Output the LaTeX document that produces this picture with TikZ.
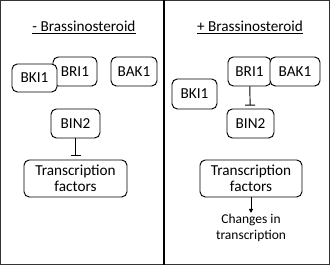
\documentclass[tikz,border=0pt]{standalone}
\usepackage{fontspec}
\setmainfont{Carlito}
\usetikzlibrary{arrows.meta}
\begin{document}
\begin{tikzpicture}[x=0.03cm,y=-0.03cm,
    protbox/.style={draw,line width=0.8pt,rounded corners=0.16cm,fill=white,
        minimum height=0.87cm,inner sep=1pt,font=\fontsize{13}{15}\selectfont},
    inhib/.style={line width=0.8pt,-{Bar[width=0.3cm,line width=0.8pt]}},
    activ/.style={line width=0.8pt,-{Triangle[width=0.12cm,length=0.12cm]}}]
    \useasboundingbox (0,0) rectangle (330,265);
    % Frame
    \draw[line width=0.6pt,black!80] (0.5,0.5) rectangle (329.5,264.5);
    \draw[line width=1.7pt] (164,0) -- (164,265);
    % Without brassinosteroid
    \node[font=\fontsize{13}{15}\selectfont] (titleA) at (84,27) {\underline{- Brassinosteroid}};
    \node[protbox,minimum width=1.32cm] (briA) at (75,71.5) {BRI1};
    \node[protbox,minimum width=1.35cm,minimum height=0.84cm] (bkiA) at (34.5,78) {BKI1};
    \node[protbox,minimum width=1.38cm] (bakA) at (134,71.5) {BAK1};
    \node[protbox,minimum width=1.47cm] (binA) at (75.5,123.5) {BIN2};
    \node[protbox,minimum width=3.09cm,minimum height=1.11cm,align=center,
        font=\fontsize{13}{14}\selectfont] (tfA) at (75.5,178.5) {Transcription\\factors};
    \draw[inhib,shorten >=3pt] (binA) -- (tfA);
    % With brassinosteroid
    \node[font=\fontsize{13}{15}\selectfont] (titleB) at (250,27) {\underline{+ Brassinosteroid}};
    \node[protbox,minimum width=1.35cm,minimum height=0.9cm] (bkiB) at (194.5,94) {BKI1};
    \node[protbox,minimum width=1.29cm] (briB) at (249.5,71.5) {BRI1};
    \node[protbox,minimum width=1.5cm] (bakB) at (295,71.5) {BAK1};
    \node[protbox,minimum width=1.41cm] (binB) at (250.5,123.5) {BIN2};
    \node[protbox,minimum width=3.06cm,minimum height=1.11cm,align=center,
        font=\fontsize{13}{14}\selectfont] (tfB) at (251,178.5) {Transcription\\factors};
    \node[align=center,inner sep=1pt,font=\fontsize{11.5}{13.5}\selectfont] (chgB) at (251,228) {Changes in\\transcription};
    \draw[inhib,shorten >=2.5pt] (briB) -- (binB);
    \draw[activ] (tfB) -- (chgB);
\end{tikzpicture}
\end{document}
